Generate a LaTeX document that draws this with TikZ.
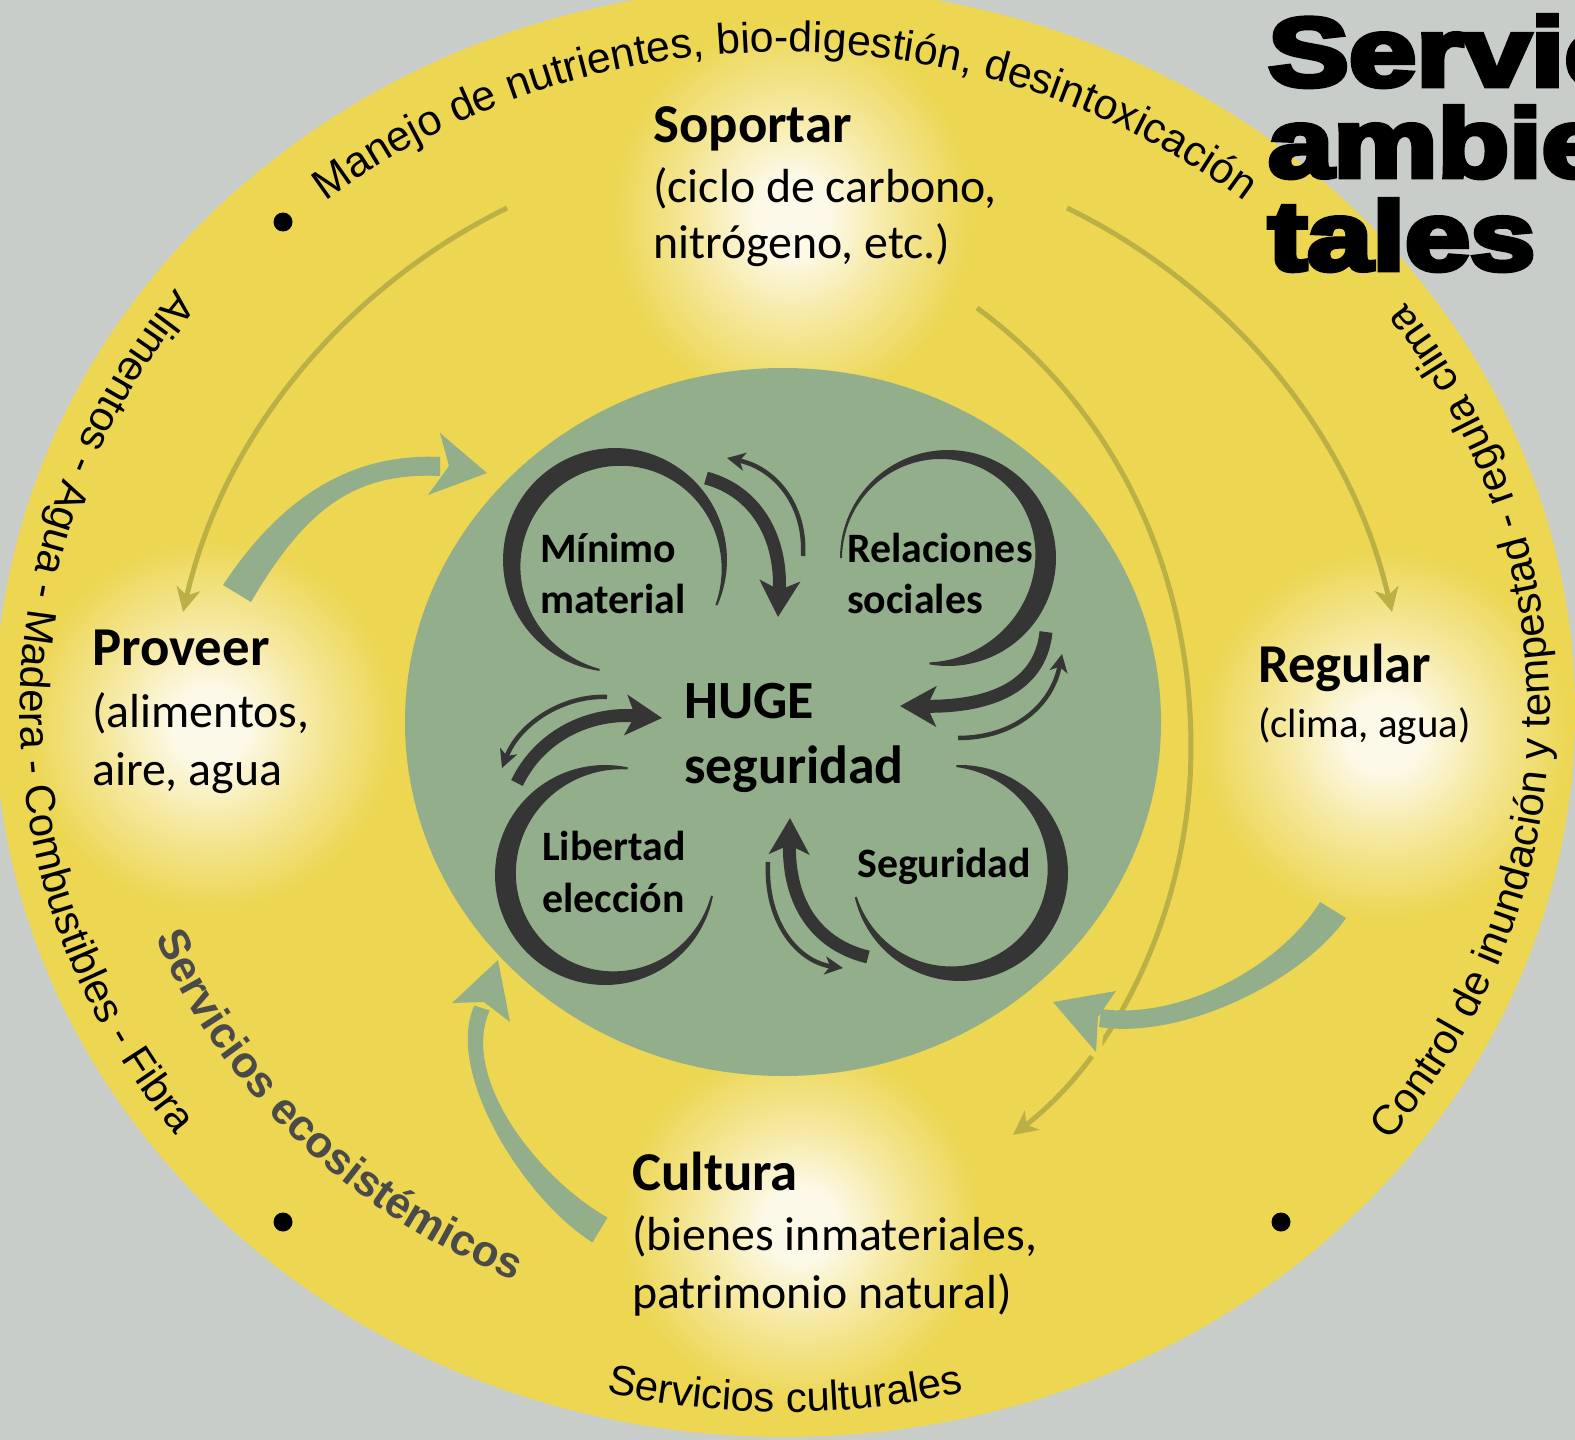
\documentclass[tikz,border=0pt]{standalone}
\usepackage{fontspec}
\usepackage{graphicx}
\usetikzlibrary{decorations.text,arrows.meta}
\newfontfamily\calf{Carlito}
\newfontfamily\arialf{Liberation Sans}
\newfontfamily\heavyf[FakeBold=5]{Liberation Sans}
\definecolor{bgc}{HTML}{C8CDCA}
\definecolor{yel}{HTML}{ECD652}
\definecolor{grn}{HTML}{93AE8A}
\definecolor{dark}{HTML}{353535}
\definecolor{olive}{HTML}{BBB046}
\definecolor{glowc}{HTML}{FDF9E8}
\definecolor{glowm}{HTML}{F5E89E}
\definecolor{sertxt}{HTML}{4A4A4A}
\pgfdeclareradialshading{glow}{\pgfpoint{0bp}{0bp}}{color(0bp)=(glowc); color(5bp)=(glowc); color(14bp)=(glowm); color(25bp)=(yel); color(50bp)=(yel)}
\newcommand\ringfont{\arialf\fontsize{42}{50}\selectfont}
\newcommand\topringfont{\arialf\fontsize{43}{50}\selectfont}
\newcommand\ecofont{\arialf\bfseries\fontsize{44}{52}\selectfont\color{sertxt}}
% tapered ring: cx cy R a1 a2 warp tmax tmin
\newcommand\tapring[8]{%
\fill[dark] plot[domain=#4:#5, samples=90, variable=\q] ({#1+#3*cos(\q)}, {#2+#3*sin(\q)})
 -- plot[domain=#5:#4, samples=90, variable=\q]
 ({#1+(#3-#8-(#7-#8)*sin(180*(((\q-#4)/(#5-#4))+#6*((\q-#4)/(#5-#4))*(1-((\q-#4)/(#5-#4))))))*cos(\q)},
  {#2+(#3-#8-(#7-#8)*sin(180*(((\q-#4)/(#5-#4))+#6*((\q-#4)/(#5-#4))*(1-((\q-#4)/(#5-#4))))))*sin(\q)}) -- cycle;}
\begin{document}
\begin{tikzpicture}[x=1bp,y=-1bp,
  dotn/.style={circle,fill=black,inner sep=0,minimum size=19bp},
  ttl/.style={font=\calf\bfseries\fontsize{55}{60}\selectfont, anchor=base west, inner sep=0},
  sub/.style={font=\calf\fontsize{48}{58}\selectfont, anchor=base west, inner sep=0},
  subs/.style={font=\calf\fontsize{41}{50}\selectfont, anchor=base west, inner sep=0},
  hug/.style={font=\calf\bfseries\fontsize{54}{60}\selectfont, anchor=base west, inner sep=0},
  inn/.style={font=\calf\bfseries\fontsize{42}{51}\selectfont, anchor=base west, inner sep=0},
  bigt/.style={font=\heavyf\bfseries\fontsize{98}{98}\selectfont, anchor=base west, inner sep=0},
  olivearr/.style={draw=olive, line width=5bp, -{Stealth[length=24bp,width=24bp,inset=7bp]}},
  thickarr/.style={draw=dark, line width=13bp, -{Stealth[length=36bp,width=40bp,inset=9bp]}},
  thinarr/.style={draw=dark, line width=4.5bp, -{Stealth[length=18bp,width=18bp,inset=5bp]}},
  grnfill/.style={fill=grn},
  ringtext/.style={decorate, decoration={text along path, text align=center, text={#1}}},
]
\clip (0,0) rectangle (1575,1440);
\fill[bgc] (0,0) rectangle (1575,1440);
\fill[yel] (785,712) ellipse [x radius=790, y radius=725];
\begin{scope}
  \clip (785,712) ellipse [x radius=790, y radius=725];
  \shade[shading=glow] (792,215) ellipse [x radius=180, y radius=195];
  \shade[shading=glow] (210,725) ellipse [x radius=185, y radius=185];
  \shade[shading=glow] (1385,735) ellipse [x radius=185, y radius=185];
  \shade[shading=glow] (800,1225) ellipse [x radius=180, y radius=180];
\end{scope}
% ring texts
\path[ringtext={|\topringfont|Manejo de nutrientes, bio-digestión, desintoxicación}]
  (785,712) ++(200:725 and 660) arc[start angle=200, end angle=340, x radius=725, y radius=660];
\path[ringtext={|\ringfont|Alimentos - Agua - Madera - Combustibles - Fibra}]
  (785,712) ++(232:765 and 700) arc[start angle=232, end angle=128, x radius=765, y radius=700];
\path[ringtext={|\ringfont|Control de inundación y tempestad - regula clima}]
  (785,712) ++(55:765 and 700) arc[start angle=55, end angle=-53, x radius=765, y radius=700];
\path[ringtext={|\ringfont|Servicios culturales}]
  (785,712) ++(120:765 and 700) arc[start angle=120, end angle=60, x radius=765, y radius=700];
\path[ringtext={|\ecofont|Servicios ecosistémicos}]
  (785,712) ++(170:676 and 620) arc[start angle=170, end angle=103, x radius=676, y radius=620];
\node[dotn] (dot1) at (283,222) {};
\node[dotn] (dot2) at (283,1222) {};
\node[dotn] (dot3) at (1281,1222) {};
% olive arrows
\coordinate (o1s) at (507,208); \coordinate (o1e) at (183,612);
\coordinate (o2s) at (1067,208); \coordinate (o2e) at (1392,612);
\coordinate (o3s) at (977,308); \coordinate (o3m) at (1190,780); \coordinate (o3e) at (1013,1135);
\draw[olivearr] (o1s) .. controls (370,275) and (230,410) .. (o1e);
\draw[olivearr] (o2s) .. controls (1205,275) and (1345,410) .. (o2e);
\draw[olivearr] (o3s) .. controls (1130,420) and (1200,600) .. (o3m) .. controls (1180,930) and (1110,1060) .. (o3e);
% green disk
\fill[grn] (783,722) ellipse [x radius=378, y radius=354];
% green arrows
\fill[grnfill] (223,585) .. controls (284,493) and (355,453) .. (440,457) -- (440,476) .. controls (355,472) and (306,508) .. (251,602) -- cycle;
\fill[grnfill] (487,473) -- (440,433) -- (449,466) -- (428,495) -- cycle;
\draw[yel, line width=12bp, line join=round] (1053,1002) -- (1116,991) -- (1098,1017) -- (1096,1052) -- cycle;
\fill[grnfill] (1320,902) .. controls (1279,968) and (1179,1020) .. (1101,1009) -- (1099,1027) .. controls (1181,1040) and (1301,982) .. (1346,918) -- cycle;
\fill[grnfill] (1053,1002) -- (1116,991) -- (1098,1017) -- (1096,1052) -- cycle;
\fill[grnfill] (607.5,1217.6) .. controls (537.7,1177.9) and (460,1078) .. (489.6,1010.5) -- (474.4,1005.5) .. controls (444,1072) and (524.3,1200.1) .. (592.5,1242.4) -- cycle;
\fill[grnfill] (498,960) -- (510,1022) -- (484,1002) -- (452,1003) -- cycle;
% outer labels
\node[ttl] (sopT) at (653,143) {Soportar};
\node[sub] (sopA) at (653,203) {(ciclo de carbono,};
\node[sub] (sopB) at (653,258) {nitrógeno, etc.)};
\node[ttl] (proT) at (92,665) {Proveer};
\node[sub] (proA) at (92,727) {(alimentos,};
\node[sub] (proB) at (92,785) {aire, agua};
\node[ttl] (regT) at (1258,682) {Regular};
\node[subs] (regA) at (1258,737) {(clima, agua)};
\node[ttl] (culT) at (632,1190) {Cultura};
\node[sub] (culA) at (632,1250) {(bienes inmateriales,};
\node[sub] (culB) at (632,1308) {patrimonio natural)};
% inner rings
\tapring{615}{560}{112}{98}{384}{0.23}{20}{2}
\tapring{948}{558}{108}{180}{460}{-0.9}{21}{2}
\tapring{605}{875}{110}{11}{282}{-0.36}{21}{2}
\tapring{960}{873}{108}{268}{527}{0.28}{21}{2}
% inner arrows
\draw[thickarr] (706,478) .. controls (758,492) and (782,540) .. (778,617);
\draw[thinarr] (803,556) .. controls (806,505) and (775,468) .. (727,458);
\draw[thickarr] (1046,632) .. controls (1040,690) and (985,707) .. (900,706);
\draw[thinarr] (958,738) .. controls (1015,738) and (1052,705) .. (1062,654);
\draw[thickarr] (517,783) .. controls (540,735) and (590,712) .. (662,718);
\draw[thinarr] (607,697) .. controls (565,695) and (520,722) .. (502,768);
\draw[thickarr] (868,957) .. controls (818,945) and (788,905) .. (790,818);
\draw[thinarr] (768,862) .. controls (765,925) and (800,962) .. (843,968);
% inner labels
\node[hug] (hugeA) at (684,718) {HUGE};
\node[hug] (hugeB) at (684,783) {seguridad};
\node[inn] (minA) at (540,562) {Mínimo};
\node[inn] (minB) at (540,613) {material};
\node[inn] (relA) at (847,562) {Relaciones};
\node[inn] (relB) at (847,613) {sociales};
\node[inn] (libA) at (542,860) {Libertad};
\node[inn] (libB) at (542,912) {elección};
\node[inn] (segA) at (857,877) {Seguridad};
% title
\node[bigt] (tt1) at (1268,86) {\scalebox{1.24}[1]{Servic}};
\node[bigt] (tt2) at (1268,177) {\scalebox{1.2}[1]{ambie}};
\node[bigt] (tt3) at (1268,270) {\scalebox{1.2}[1]{tales}};
\end{tikzpicture}
\end{document}
